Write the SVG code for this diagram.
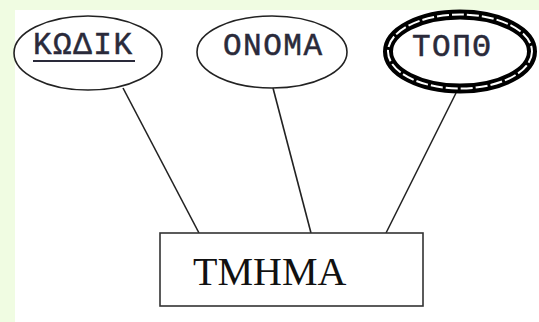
<svg xmlns="http://www.w3.org/2000/svg" width="539" height="322" viewBox="0 0 539 322">
  <style>
    .attr { fill: #ffffff; stroke: #222222; stroke-width: 1.6; }
    .mono { font-family: "Liberation Mono", "Courier New", monospace; font-size: 31px; letter-spacing: 1.5px; fill: #2a2a3a; stroke: #2a2a3a; stroke-width: 0.5; }
    .serif { font-family: "Liberation Serif", "Times New Roman", serif; font-size: 40px; fill: #111111; }
    .conn { stroke: #222222; stroke-width: 1.6; fill: none; }
  </style>
  <rect x="0" y="0" width="539" height="322" fill="#f0fce2"/>
  <rect x="15" y="10" width="524" height="312" fill="#ffffff"/>

  <g id="connectors">
    <line class="conn" x1="123" y1="88" x2="199" y2="233"/>
    <line class="conn" x1="273" y1="88" x2="311" y2="233"/>
    <line class="conn" x1="456" y1="93" x2="386" y2="233"/>
  </g>

  <g id="kodik">
    <ellipse class="attr" cx="88" cy="53" rx="74" ry="37"/>
    <text class="mono" x="33" y="54">ΚΩΔΙΚ</text>
    <line x1="33" y1="61" x2="135" y2="61" stroke="#2a2a3a" stroke-width="2"/>
  </g>

  <g id="onoma">
    <ellipse class="attr" cx="272" cy="52" rx="75" ry="36"/>
    <text class="mono" x="223" y="55">ΟΝΟΜΑ</text>
  </g>

  <g id="topo">
    <ellipse cx="460" cy="51.5" rx="72" ry="37" fill="#ffffff" stroke="#000000" stroke-width="10"/>
    <ellipse cx="460" cy="51.5" rx="72" ry="37" fill="none" stroke="#ffffff" stroke-width="2" stroke-dasharray="12 3"/>
    <text class="mono" x="412" y="56">ΤΟΠΘ</text>
  </g>

  <g id="tmhma">
    <rect x="160" y="233" width="263" height="73" fill="#ffffff" stroke="#333333" stroke-width="1.6"/>
    <text class="serif" x="193" y="285">ΤΜΗΜΑ</text>
  </g>
</svg>
